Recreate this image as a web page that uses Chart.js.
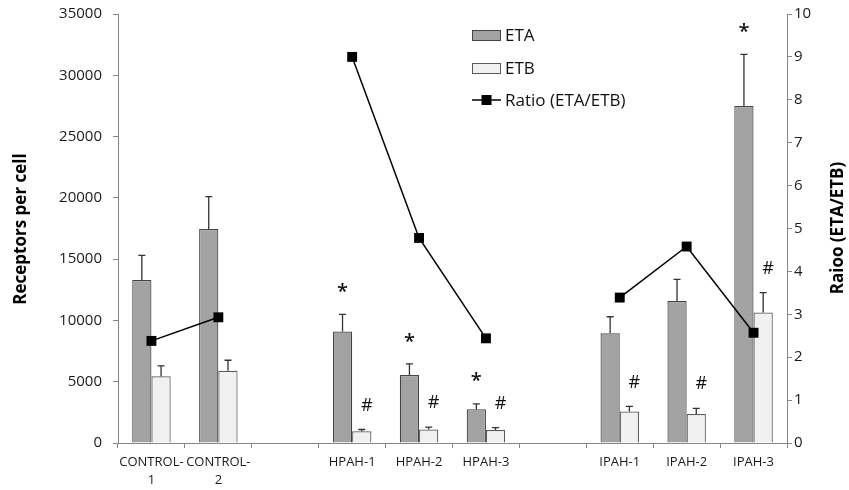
<!DOCTYPE html>
<html>
<head>
<meta charset="utf-8">
<script src="https://cdn.jsdelivr.net/npm/chart.js@4"></script>
<style>
  html, body { margin: 0; padding: 0; background: #fff; }
  #wrap { position: relative; width: 849px; height: 490px; }
</style>
</head>
<body>
<div id="wrap"><canvas id="chart"></canvas></div>
<script>
// data
const labels = [["CONTROL-", "1"], ["CONTROL-", "2"], "", "HPAH-1", "HPAH-2", "HPAH-3", "", "IPAH-1", "IPAH-2", "IPAH-3"];
const eta = [13300, 17450, null, 9100, 5550, 2750, null, 8950, 11580, 27500];
const etaSd = [2000, 2650, null, 1400, 900, 450, null, 1350, 1770, 4200];
const etb = [5450, 5900, null, 950, 1100, 1060, null, 2560, 2370, 10650];
const etbSd = [850, 850, null, 150, 200, 190, null, 420, 460, 1620];
const ratio = [2.38, 2.93, null, 9.0, 4.78, 2.44, null, 3.39, 4.58, 2.57];
const etaMarks = ["", "", "", "*", "*", "*", "", "", "", "*"];
const etbMarks = ["", "", "", "#", "#", "#", "", "#", "#", "#"];

const FONT = "'Open Sans', 'Noto Sans', sans-serif";
const AXIS = "#868686";

function dotted(base, dot) {
  const c = document.createElement("canvas");
  c.width = 2; c.height = 2;
  const g = c.getContext("2d");
  g.fillStyle = base; g.fillRect(0, 0, 2, 2);
  g.fillStyle = dot; g.fillRect(0, 0, 1, 1); g.fillRect(1, 1, 1, 1);
  return g.createPattern(c, "repeat");
}
const etaFill = dotted("#a8a8a8", "#9d9d9d");
const etbFill = dotted("#f6f6f6", "#ebebeb");

// error bars (upper only) and significance marks
const errorBars = {
  id: "errorBars",
  afterDatasetsDraw(chart) {
    const ctx = chart.ctx, y = chart.scales.y;
    [[0, eta, etaSd, etaMarks, 27, 4], [1, etb, etbSd, etbMarks, 24, 5]].forEach(([di, vals, sd, marks, off, dx]) => {
      const meta = chart.getDatasetMeta(di);
      meta.data.forEach((bar, i) => {
        if (vals[i] == null) return;
        const y0 = y.getPixelForValue(vals[i]);
        const y1 = y.getPixelForValue(vals[i] + sd[i]);
        ctx.save();
        ctx.strokeStyle = "#333";
        ctx.lineWidth = 1.3;
        ctx.beginPath();
        ctx.moveTo(bar.x, y0); ctx.lineTo(bar.x, y1);
        ctx.moveTo(bar.x - 3.5, y1); ctx.lineTo(bar.x + 3.5, y1);
        ctx.stroke();
        if (marks[i]) {
          ctx.fillStyle = "#111";
          ctx.textAlign = "center";
          ctx.textBaseline = "middle";
          ctx.font = (marks[i] === "*" ? "600 20px " : "18px ") + FONT;
          ctx.fillText(marks[i], bar.x + (marks[i] === "#" ? dx : 0), y1 - off + (marks[i] === "*" ? 5 : 0));
        }
        ctx.restore();
      });
    });
  }
};

// axis titles and the inset legend
const extras = {
  id: "extras",
  afterDraw(chart) {
    const ctx = chart.ctx;
    const ds = chart.data.datasets;
    ctx.save();
    ctx.fillStyle = "#000";
    ctx.font = "bold 17px " + FONT;
    ctx.textAlign = "center";
    ctx.textBaseline = "middle";
    ctx.translate(21, 229); ctx.rotate(-Math.PI / 2);
    ctx.fillText("Receptors per cell", 0, 0);
    ctx.restore();

    ctx.save();
    ctx.fillStyle = "#000";
    ctx.font = "bold 17px " + FONT;
    ctx.textAlign = "center";
    ctx.textBaseline = "middle";
    ctx.translate(838, 228); ctx.rotate(-Math.PI / 2);
    ctx.fillText("Raioo (ETA/ETB)", 0, 0);
    ctx.restore();

    ctx.save();
    ctx.font = "17px " + FONT;
    ctx.textBaseline = "middle";
    ctx.fillStyle = "#111";
    const x0 = 472, rows = [35, 68, 100];
    [0, 1].forEach(k => {
      ctx.fillStyle = ds[k].backgroundColor;
      ctx.fillRect(x0, rows[k] - 5, 29, 11);
      ctx.strokeStyle = ds[k].borderColor;
      ctx.lineWidth = 1;
      ctx.strokeRect(x0 + 0.5, rows[k] - 4.5, 28, 10);
      ctx.fillStyle = "#111";
      ctx.fillText(ds[k].label, 505, rows[k] + 1);
    });
    ctx.strokeStyle = "#000";
    ctx.lineWidth = 1.5;
    ctx.beginPath(); ctx.moveTo(x0, rows[2]); ctx.lineTo(x0 + 29, rows[2]); ctx.stroke();
    ctx.fillStyle = "#000";
    ctx.fillRect(x0 + 9.5, rows[2] - 5, 10, 10);
    ctx.fillStyle = "#111";
    ctx.fillText(ds[2].label, 505, rows[2] + 1);
    ctx.restore();
  }
};

new Chart(document.getElementById("chart"), {
  type: "bar",
  data: {
    labels: labels,
    datasets: [
      { label: "ETA", data: eta, backgroundColor: etaFill, borderColor: "#444", borderWidth: 1.2, order: 1,
        categoryPercentage: 0.575, barPercentage: 1.0, yAxisID: "y" },
      { label: "ETB", data: etb, backgroundColor: etbFill, borderColor: "#5a5a5a", borderWidth: 1.2, order: 1,
        categoryPercentage: 0.575, barPercentage: 1.0, yAxisID: "y" },
      { type: "line", label: "Ratio (ETA/ETB)", data: ratio, yAxisID: "y1", order: 0,
        borderColor: "#000", borderWidth: 1.5, pointStyle: "rect", pointRadius: 7, pointHoverRadius: 7,
        pointBackgroundColor: "#000", pointBorderWidth: 0, spanGaps: false, tension: 0 },
    ],
  },
  options: {
    responsive: true,
    maintainAspectRatio: false,
    animation: false,
    layout: { padding: { top: 14, left: 0, right: 0, bottom: 0 } },
    plugins: { legend: { display: false }, tooltip: { enabled: false } },
    scales: {
      x: {
        grid: { drawOnChartArea: false, tickLength: 5, color: AXIS, offset: true },
        border: { color: AXIS },
        ticks: { color: "#1a1a1a", font: { family: FONT, size: 13, lineHeight: 1.4 }, padding: 5, maxRotation: 0, autoSkip: false },
        afterFit(s) { s.height = 47; s.paddingLeft = 0; s.paddingRight = 0; },
      },
      y: {
        position: "left", min: 0, max: 35000,
        grid: { drawOnChartArea: false, tickLength: 5, color: AXIS },
        border: { color: AXIS },
        ticks: { stepSize: 5000, color: "#1a1a1a", padding: 11, font: { family: FONT, size: 15 }, callback: v => String(v) },
        afterFit(s) { s.width = 118; s.paddingTop = 0; s.paddingBottom = 0; },
      },
      y1: {
        position: "right", min: 0, max: 10,
        grid: { drawOnChartArea: false, tickLength: 5, color: AXIS },
        border: { color: AXIS },
        ticks: { stepSize: 1, color: "#1a1a1a", padding: 2, font: { family: FONT, size: 15 }, callback: v => String(v) },
        afterFit(s) { s.width = 62; s.paddingTop = 0; s.paddingBottom = 0; },
      },
    },
  },
  plugins: [errorBars, extras],
});
</script>
</body>
</html>
